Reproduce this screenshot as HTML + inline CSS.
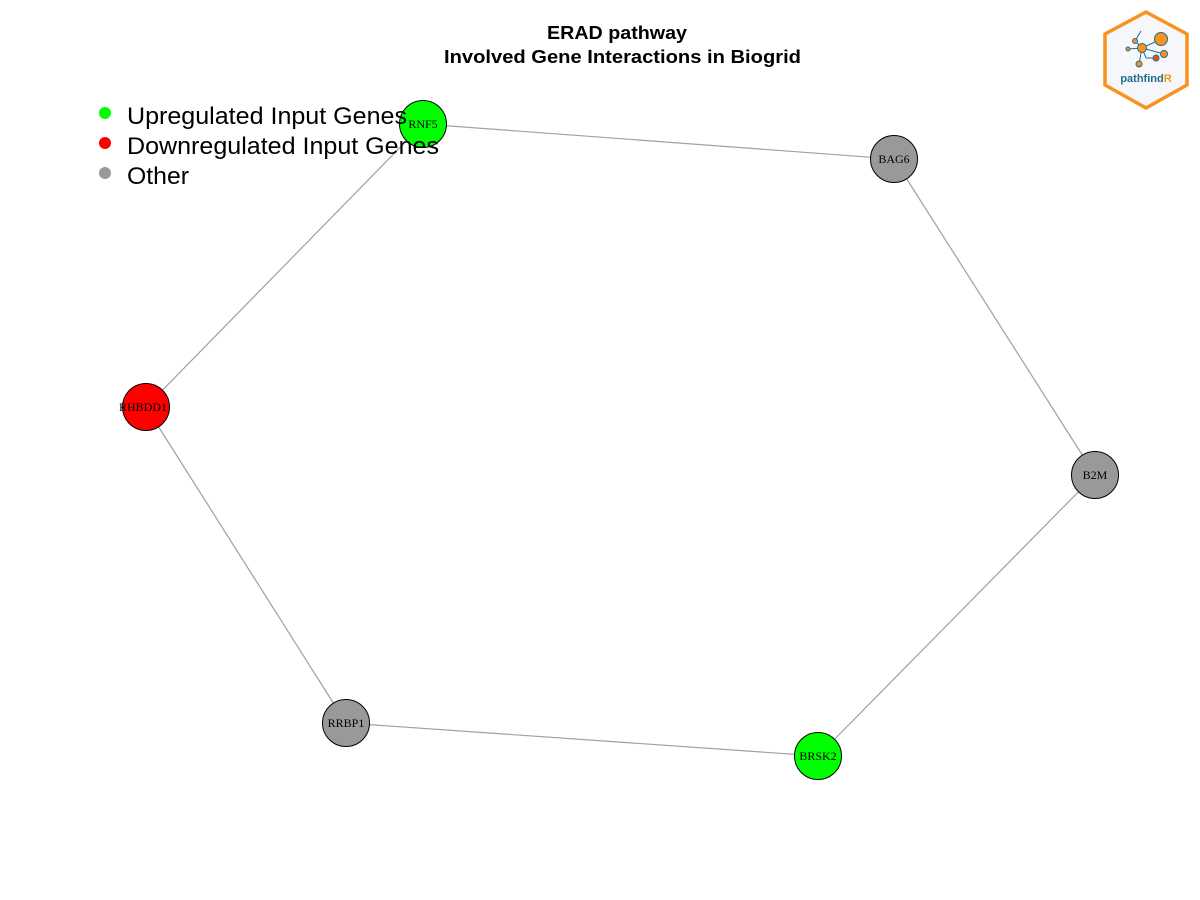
<!DOCTYPE html>
<html><head><style>body{margin:0;background:#fff;}svg{display:block}</style></head><body>
<svg width="1200" height="900" xmlns="http://www.w3.org/2000/svg">
<rect width="1200" height="900" fill="#fff"/>
<text x="547" y="39" textLength="140" lengthAdjust="spacingAndGlyphs" font-family="Liberation Sans, sans-serif" font-weight="bold" font-size="18">ERAD pathway</text>
<text x="444" y="63" textLength="357" lengthAdjust="spacingAndGlyphs" font-family="Liberation Sans, sans-serif" font-weight="bold" font-size="18">Involved Gene Interactions in Biogrid</text>
<g stroke="#a0a0a0" stroke-width="1.2">
<line x1="423" y1="124" x2="894" y2="159"/>
<line x1="894" y1="159" x2="1095" y2="475"/>
<line x1="1095" y1="475" x2="818" y2="756"/>
<line x1="818" y1="756" x2="346" y2="723"/>
<line x1="346" y1="723" x2="146" y2="407"/>
<line x1="146" y1="407" x2="423" y2="124"/>
</g>
<g stroke="#000" stroke-width="1">
<circle cx="423" cy="124" r="23.5" fill="#00ff00"/>
<circle cx="894" cy="159" r="23.5" fill="#999"/>
<circle cx="1095" cy="475" r="23.5" fill="#999"/>
<circle cx="818" cy="756" r="23.5" fill="#00ff00"/>
<circle cx="346" cy="723" r="23.5" fill="#999"/>
<circle cx="146" cy="407" r="23.5" fill="#ff0000"/>
</g>
<g font-family="Liberation Serif, serif" font-size="12" text-anchor="middle">
<text x="423" y="128">RNF5</text>
<text x="894" y="163">BAG6</text>
<text x="1095" y="479">B2M</text>
<text x="818" y="760">BRSK2</text>
<text x="346" y="727">RRBP1</text>
<text x="143" y="411">RHBDD1</text>
</g>
<g font-family="Liberation Sans, sans-serif" font-size="24">
<circle cx="105" cy="113" r="6" fill="#00ff00"/><text x="127" y="124" textLength="280" lengthAdjust="spacingAndGlyphs">Upregulated Input Genes</text>
<circle cx="105" cy="143" r="6" fill="#ff0000"/><text x="127" y="154" textLength="312" lengthAdjust="spacingAndGlyphs">Downregulated Input Genes</text>
<circle cx="105" cy="173" r="6" fill="#999"/><text x="127" y="184" textLength="62" lengthAdjust="spacingAndGlyphs">Other</text>
</g>
<g>
<polygon points="1146,12 1187,34 1187,85 1146,108 1105,85 1105,34" fill="#f5f7fa" stroke="#f7931e" stroke-width="3.5"/>
<g stroke="#1f6f8b" stroke-width="1">
<line x1="1142" y1="48" x2="1161" y2="39"/><line x1="1142" y1="48" x2="1135" y2="41"/><line x1="1142" y1="48" x2="1128" y2="49"/><line x1="1142" y1="48" x2="1164" y2="54"/><line x1="1142" y1="48" x2="1139" y2="64"/><line x1="1142" y1="48" x2="1146" y2="58"/><line x1="1146" y1="58" x2="1156" y2="58"/><line x1="1135" y1="41" x2="1141" y2="31"/>
</g>
<circle cx="1161" cy="39" r="6.5" fill="#f7931e" stroke="#1f6f8b"/>
<circle cx="1142" cy="48" r="4.5" fill="#f7931e" stroke="#1f6f8b"/>
<circle cx="1164" cy="54" r="3.5" fill="#f7931e" stroke="#1f6f8b"/>
<circle cx="1156" cy="58" r="3" fill="#e8501e" stroke="#1f6f8b"/>
<circle cx="1139" cy="64" r="3" fill="#f7931e" stroke="#1f6f8b"/>
<circle cx="1135" cy="41" r="2.5" fill="#f7931e" stroke="#1f6f8b"/>
<circle cx="1128" cy="49" r="2" fill="#f7931e" stroke="#1f6f8b"/>
<text x="1146" y="82" text-anchor="middle" font-family="Liberation Sans, sans-serif" font-weight="bold" font-size="11" fill="#1f6f8b">pathfind<tspan fill="#f7931e">R</tspan></text>
</g>
</svg>
</body></html>
